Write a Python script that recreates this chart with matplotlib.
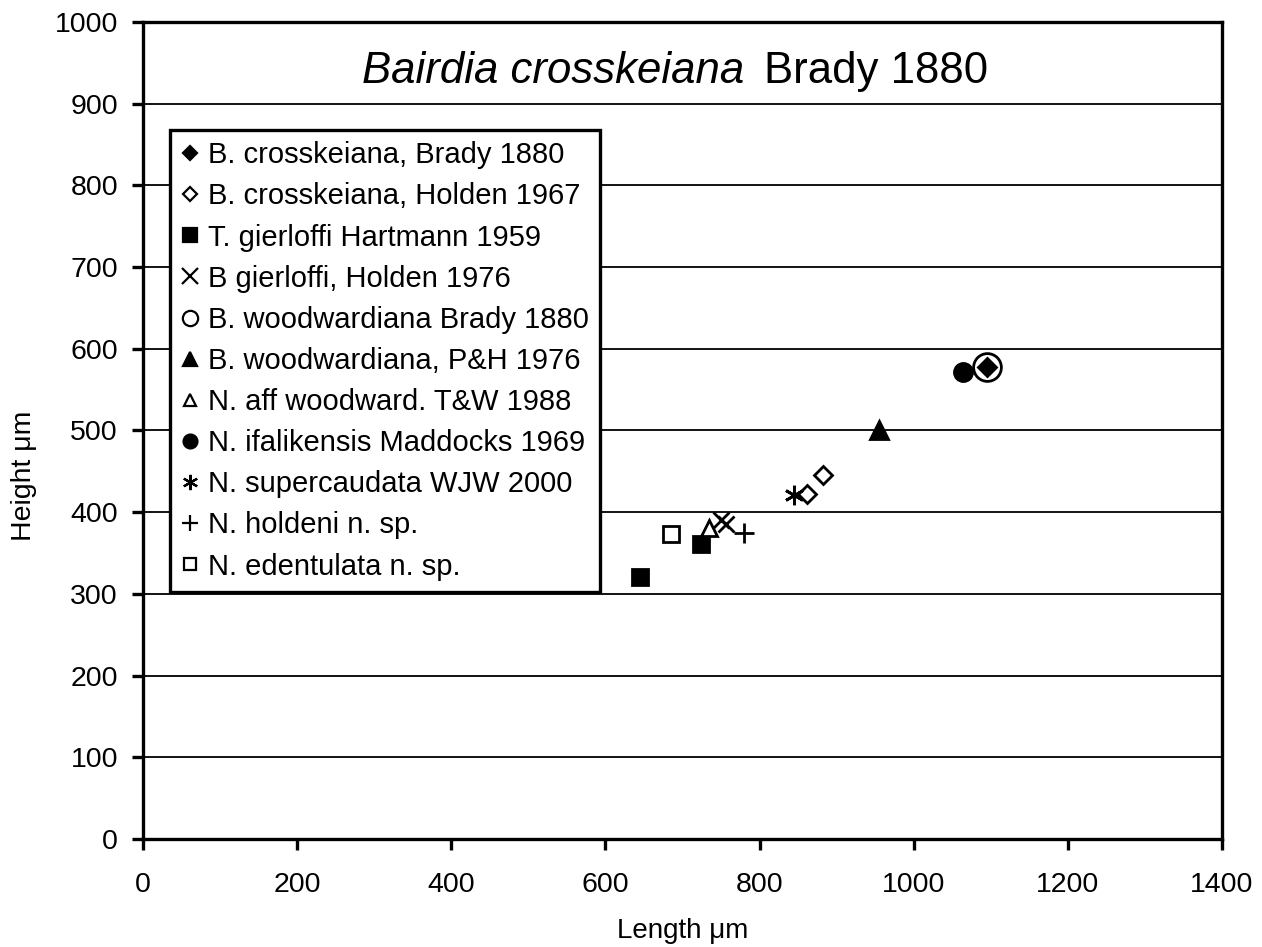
"""Length vs height scatter for Bairdia crosskeiana and related species"""

import matplotlib
matplotlib.use("Agg")
import matplotlib.pyplot as plt


plt.rcParams['font.family'] = ['Liberation Sans', 'DejaVu Sans']

# series names, in legend order
labels = [
	"B. crosskeiana, Brady 1880",
	"B. crosskeiana, Holden 1967",
	"T. gierloffi Hartmann 1959",
	"B gierloffi, Holden 1976",
	"B. woodwardiana Brady 1880",
	"B. woodwardiana, P&H 1976",
	"N. aff woodward. T&W 1988",
	"N. ifalikensis Maddocks 1969",
	"N. supercaudata WJW 2000",
	"N. holdeni n. sp.",
	"N. edentulata n. sp.",
]

# length (um) per series
lengths = [
	[1095],
	[882, 861],
	[724, 645],
	[750, 756],
	[1095],
	[955],
	[735],
	[1064],
	[845],
	[780],
	[685],
]

# height (um) per series
heights = [
	[577],
	[445, 422],
	[361, 321],
	[390, 385],
	[577],
	[500],
	[380],
	[571],
	[421],
	[375],
	[373],
]

# marker style per series: (marker, filled, size in plot, size in legend)
styles = [
	("D", True, 9, 7.5),
	("D", False, 9, 7),
	("s", True, 12, 10),
	("x", False, 12, 11),
	("o", False, 20, 11),
	("^", True, 13, 10),
	("^", False, 12, 8),
	("o", True, 13, 10),
	((6, 2, 0), False, 14, 11),
	("+", False, 14, 11),
	("s", False, 12, 9),
]


fig = plt.figure(figsize=(12.62, 9.47), dpi=100)
ax = fig.add_axes([0.1133, 0.114, 0.855, 0.863])

for i in range(len(labels)):
	mk, filled, size, _ = styles[i]
	face = "black" if filled else "white"
	z = 4 if i == 4 else 5
	if mk in ("x", "+") or isinstance(mk, tuple):
		ax.plot(lengths[i], heights[i], linestyle="none", marker=mk, markersize=size,
			color="black", markeredgewidth=2, label=labels[i], zorder=z)
	else:
		ax.plot(lengths[i], heights[i], linestyle="none", marker=mk, markersize=size,
			markerfacecolor=face, markeredgecolor="black", markeredgewidth=2,
			label=labels[i], zorder=z)

ax.set_xlim(0, 1400)
ax.set_ylim(0, 1000)
ax.set_xticks(range(0, 1401, 200))
ax.set_yticks(range(0, 1001, 100))

# horizontal grid lines
for y in range(100, 1000, 100):
	ax.axhline(y, color="black", linewidth=1.3, zorder=1)

for s in ax.spines.values():
	s.set_linewidth(2.4)
	s.set_color("black")

ax.tick_params(direction="out", length=8, width=2.4, labelsize=20.5)
ax.tick_params(axis="x", pad=16)
ax.tick_params(axis="y", pad=10)

ax.set_xlabel("Length \u03bcm", fontsize=20)
ax.xaxis.set_label_coords(0.5, -0.097)
ax.set_ylabel("Height \u03bcm", fontsize=20.5)
ax.yaxis.set_label_coords(-0.098, 0.445)

ax.text(0.557, 0.925, "Bairdia crosskeiana", style="italic", fontsize=31.5,
	ha="right", va="baseline", transform=ax.transAxes)
ax.text(0.576, 0.925, "Brady 1880", fontsize=31.5,
	ha="left", va="baseline", transform=ax.transAxes)

leg = ax.legend(loc="upper left", bbox_to_anchor=(0.025, 0.868), borderaxespad=0,
	fontsize=21, handlelength=0.6, handletextpad=0.3, labelspacing=0.45,
	borderpad=0.4, fancybox=False, framealpha=1, edgecolor="black")
leg.get_frame().set_linewidth(2.4)
leg.set_zorder(10)
for h, st in zip(leg.legend_handles, styles):
	h.set_markersize(st[3])
	h.set_markeredgewidth(1.6)

plt.savefig("out.png", dpi=100)
